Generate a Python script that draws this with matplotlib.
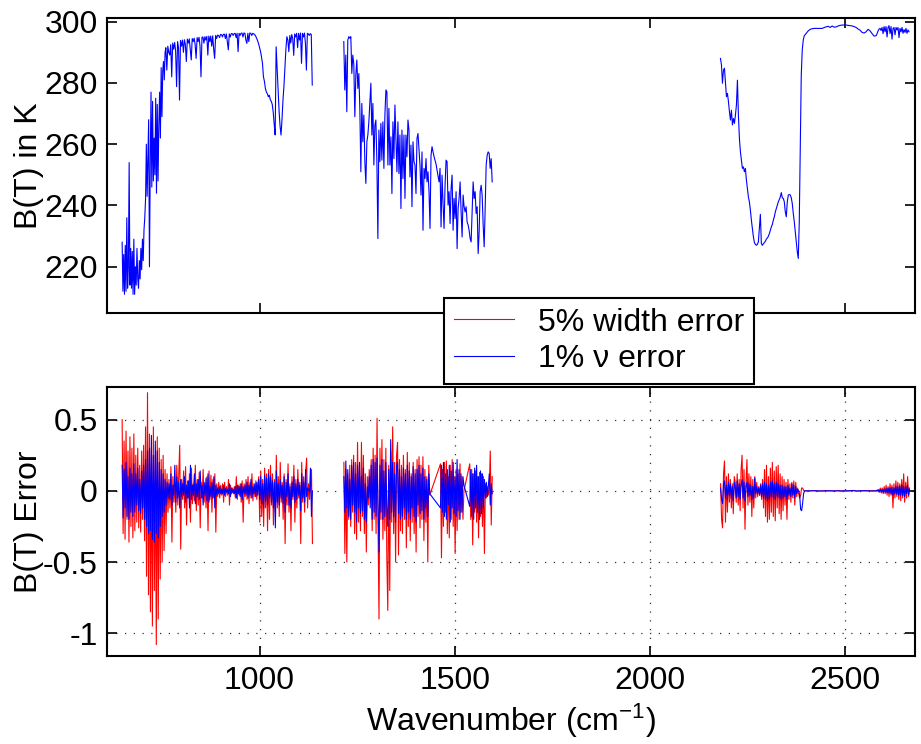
import numpy as np
import matplotlib
matplotlib.use("Agg")
import matplotlib.pyplot as plt

plt.rcParams['font.family'] = ['Liberation Sans', 'DejaVu Sans']
plt.rcParams['mathtext.fontset'] = 'custom'
plt.rcParams['mathtext.rm'] = 'Liberation Sans'
plt.rcParams['mathtext.it'] = 'Liberation Sans:italic'
plt.rcParams['mathtext.bf'] = 'Liberation Sans:bold'

# ---------------- Top panel: brightness temperature B(T) in K ----------------
# segment 1 (648-1136 cm-1), three sub-pieces of regular sampling
bt_seg1a_range = (648.0, 758.0)
bt_seg1a = [228, 212, 224, 211, 227, 212, 236, 213, 220, 254,
            214, 226, 213, 225, 211, 229, 211, 220, 214, 226,
            216, 213, 222, 216, 226, 219, 229, 222, 232, 236,
            242, 260, 243, 256, 268, 220, 253, 277, 246, 274,
            248, 262, 250, 275, 244, 273, 248, 266, 277, 262,
            285, 269, 284, 287, 281, 290]
bt_seg1b_range = (760.0, 985.0)
bt_seg1b = [291.5, 284.2, 292.0, 290.0, 289.1, 292.5, 282.0, 293.0, 291.0, 293.2,
            290.5, 278.8, 293.5, 291.5, 274.4, 293.8, 292.0, 294.0, 290.0, 294.1,
            292.5, 287.0, 294.3, 293.0, 294.4, 291.0, 287.5, 294.5, 293.5, 294.6,
            292.5, 288.0, 294.8, 293.5, 294.9, 292.0, 282.0, 294.9, 295.0, 293.0,
            295.1, 294.0, 295.2, 289.1, 295.3, 293.5, 295.3, 292.0, 295.4, 291.0,
            288.0, 295.5, 294.5, 295.6, 295.5, 294.8, 295.8, 295.8, 295.0, 295.9,
            295.9, 294.5, 296.0, 293.5, 290.8, 296.0, 295.0, 296.1, 296.1, 295.5,
            296.1, 296.2, 294.8, 296.2, 290.2, 296.2, 295.5, 296.2, 296.3, 295.0,
            296.3, 296.2, 294.0, 292.9, 296.2, 293.5, 296.3, 296.2, 295.5, 296.2,
            296.0]
bt_seg1c_range = (987.5, 1135.0)
bt_seg1c = [295.8, 295.3, 294.6, 293.8, 292.8, 291.6, 290.3, 288.5, 286.4, 282.0,
            280.5, 278.2, 277.0, 276.5, 275.5, 276.0, 274.5, 274.0, 273.0, 270.5,
            266.5, 263.0, 291.8, 285.0, 278.0, 271.0, 266.0, 263.0, 268.0, 274.4,
            279.0, 285.3, 291.0, 295.1, 294.0, 290.2, 295.5, 293.0, 295.8, 294.5,
            289.0, 296.0, 295.0, 296.2, 291.5, 296.2, 294.0, 296.3, 286.4, 296.2,
            295.0, 296.3, 293.0, 284.2, 296.2, 296.0, 295.5, 296.1, 295.8, 279.3]

# segment 2 (1216-1596 cm-1)
bt_seg2_range = (1215.8, 1595.9)
bt_seg2 = [293.5, 277.7, 289.1, 270.6, 294.0, 295.1, 294.6, 295.1, 283.1, 289.1,
           286.0, 269.0, 282.6, 287.5, 278.2, 283.1, 271.7, 251.0, 273.3, 260.8,
           269.5, 254.3, 247.2, 260.8, 263.0, 267.3, 273.9, 279.9, 263.0, 273.3,
           253.2, 266.2, 267.9, 254.3, 229.2, 264.6, 254.3, 266.8, 254.8, 267.3,
           252.1, 269.5, 277.7, 277.1, 253.2, 271.7, 253.2, 262.4, 243.9, 267.3,
           255.3, 272.8, 261.9, 251.0, 267.3, 250.4, 263.0, 239.0, 264.6, 248.8,
           263.0, 242.3, 263.0, 255.9, 267.9, 264.6, 249.3, 259.7, 239.6, 260.8,
           254.3, 253.2, 243.9, 261.9, 263.5, 258.6, 253.2, 243.4, 257.5, 231.9,
           252.1, 248.8, 255.3, 247.7, 251.0, 244.5, 232.5, 256.4, 259.2, 257.5,
           256.0, 254.8, 253.5, 251.5, 249.5, 247.7, 252.1, 233.0, 249.9, 240.6,
           232.5, 246.6, 254.8, 254.3, 240.1, 244.5, 234.1, 245.5, 249.9, 231.9,
           242.3, 235.7, 244.5, 225.9, 239.0, 242.3, 247.7, 237.9, 229.7, 243.4,
           239.6, 237.9, 239.6, 234.6, 233.6, 231.9, 229.2, 228.1, 237.9, 247.7,
           242.3, 244.5, 237.4, 239.6, 224.3, 231.4, 244.5, 246.6, 243.4, 233.6,
           226.5, 239.0, 253.2, 256.4, 257.5, 257.0, 252.1, 255.3, 247.7]

# segment 3 (2181-2664 cm-1), three sub-pieces
bt_seg3a_range = (2180.65, 2395.28)
bt_seg3a = [288.0, 285.9, 279.9, 284.2, 284.8, 279.9, 275.5, 276.6, 273.9, 270.6,
            267.9, 271.1, 266.3, 268.4, 266.8, 269.5, 272.8, 280.9, 269.5, 261.9,
            257.5, 254.8, 252.1, 252.6, 251.0, 252.1, 248.3, 245.5, 242.8, 241.2,
            238.5, 235.2, 232.5, 229.8, 227.9, 227.3, 227.0, 227.3, 228.1, 232.5,
            237.1, 227.6, 227.0, 227.5, 227.9, 228.3, 229.0, 229.4, 229.9, 230.8,
            231.9, 233.0, 233.8, 235.2, 236.3, 237.9, 239.0, 240.1, 241.2, 241.9,
            242.8, 244.2, 242.5, 242.3, 241.2, 237.9, 236.3, 241.2, 243.4, 243.6,
            243.4, 242.5, 240.6, 237.4, 234.7, 231.4, 228.1, 224.9, 222.7, 234.7,
            258.6, 282.6, 290.8, 294.0, 295.4]
bt_seg3b_range = (2400.39, 2579.25)
bt_seg3b = [296.2, 297.0, 297.5, 297.7, 297.8, 297.8, 297.8, 297.8, 297.8, 298.1,
            298.3, 298.5, 298.1, 298.6, 298.2, 298.3, 298.6, 298.8, 298.9, 298.9,
            298.9, 298.8, 298.7, 298.6, 298.4, 298.1, 297.6, 297.2, 296.5, 296.3,
            296.7, 297.5, 297.0, 296.1, 295.3, 295.4]
bt_seg3c_range = (2581.80, 2663.57)
bt_seg3c = [296.1, 297.0, 297.6, 297.8, 297.1, 298.1, 296.1, 298.4, 296.7, 298.4,
            295.0, 298.1, 298.7, 296.1, 298.4, 294.3, 297.8, 298.1, 295.7, 298.1,
            297.3, 298.1, 294.8, 297.8, 296.7, 298.1, 296.2, 297.4, 296.5, 297.8,
            296.2, 297.3, 296.7]

# ---------------- Bottom panel: B(T) errors ----------------
# segment 1 (648-1135.5 cm-1)
err_seg1_range = (648.0, 1135.5)
width_err_seg1 = [0.50, -0.30, 0.35, -0.34, 0.42, -0.20, 0.28, -0.36, 0.38, -0.25, 0.30, -0.33, 0.40,
                  -0.28, 0.25, -0.22, 0.30, -0.26, 0.18, -0.29, 0.28, -0.20, 0.32, -0.35,
                  0.45, -0.60, 0.69, -0.73,
                  0.40, -0.85, 0.30, -0.95, 0.45, -0.70, 0.25, -1.08, 0.38, -0.90, 0.30, -0.62,
                  0.22, -0.50, 0.25, -0.42, 0.15, -0.30, 0.12, -0.15,
                  0.08, -0.12, 0.17, -0.36, 0.10, -0.08, 0.06, -0.15, 0.18, -0.10, 0.12, 0.32, -0.41, 0.08, -0.06, 0.14,
                  -0.12, 0.17, -0.24, 0.07, -0.05, 0.12, -0.22, 0.16, -0.09, 0.05, -0.07, 0.18, -0.14, 0.08, -0.10, 0.13,
                  -0.26, 0.06, -0.05, 0.15, -0.08, 0.05, -0.12, 0.10, -0.28, 0.14, -0.06, 0.11, -0.15, 0.08, -0.05, 0.12,
                  -0.29, 0.05, -0.04, 0.06, -0.05, 0.04, -0.03, 0.05, -0.08, 0.06, -0.04, 0.03, -0.03, 0.08, -0.10, 0.04,
                  -0.02, 0.02, -0.02, 0.03, -0.05, 0.10, -0.06, 0.04, -0.03, 0.05, -0.08, 0.07, -0.22, 0.05, -0.04, 0.08,
                  -0.06, 0.10, -0.09, 0.06, -0.05, 0.12, -0.07, 0.05, -0.04, 0.07, -0.06, 0.04,
                  0.10, -0.22, 0.14, -0.18, 0.08, -0.25, 0.16, -0.12, 0.12, -0.28, 0.15, -0.20, 0.18, -0.10, 0.12, -0.24,
                  0.08, -0.15, 0.25, -0.12, 0.10, -0.18, 0.20, -0.08, 0.06, -0.20, 0.12, -0.37, 0.08, -0.10, 0.19, -0.15,
                  0.05, -0.28, 0.10, -0.06, 0.18, -0.22, 0.08, -0.12, 0.15, -0.05, 0.06, -0.37, 0.20, -0.08, 0.10, -0.15,
                  0.12, 0.23, -0.12, 0.05, -0.06, 0.03, 0.15, -0.37]
nu_err_seg1 = [0.18, -0.19, 0.15, -0.12, 0.20, -0.18, 0.10, -0.20, 0.16, -0.15, 0.12, -0.18, 0.19,
               -0.15, 0.12, -0.10, 0.16, -0.14, 0.08, -0.16, 0.14, -0.12, 0.18, -0.20,
               0.22, -0.25, 0.28, -0.30,
               0.30, -0.28, 0.39, -0.34, 0.25, -0.36, 0.35, -0.30, 0.28, -0.33, 0.20, -0.25,
               0.15, -0.18, 0.12, -0.15, 0.08, -0.10, 0.06, -0.05,
               0.05, -0.06, 0.12, -0.10, 0.04, -0.03, 0.18, -0.08, 0.10, -0.05, 0.06, -0.12, 0.08, -0.04, 0.05, -0.03,
               0.10, -0.08, 0.04, -0.05, 0.07, -0.12, 0.18, -0.06, 0.04, -0.03, 0.12, -0.09, 0.05, -0.04, 0.08, -0.06,
               0.14, -0.05, 0.04, -0.10, 0.06, -0.03, 0.09, -0.07, 0.12, -0.08, 0.03, -0.04, 0.06, -0.05, 0.10, -0.12,
               0.04, -0.03, 0.02, -0.02, 0.03, -0.02, 0.01, -0.02, 0.04, -0.03, 0.02, -0.01, 0.01, -0.02, 0.05, -0.04,
               0.02, -0.01, 0.01, -0.02, 0.03, -0.05, 0.04, -0.02, 0.03, -0.04, 0.05, -0.06, 0.03, -0.02, 0.04, -0.03,
               0.06, -0.05, 0.04, -0.03, 0.08, -0.05, 0.03, -0.02, 0.05, -0.04, 0.06, -0.03,
               0.08, -0.06, 0.10, -0.09, 0.05, -0.12, 0.11, -0.07, 0.09, -0.10, 0.12, -0.05, 0.10, -0.08, 0.07, -0.12,
               0.06, -0.26, 0.14, -0.08, 0.05, -0.10, 0.08, -0.05, 0.04, -0.09, 0.10, -0.15, 0.06, -0.04, 0.12, -0.10,
               0.03, -0.12, 0.06, -0.04, 0.10, -0.08, 0.05, -0.06, 0.08, -0.03, 0.04, -0.14, 0.12, -0.05, 0.06, -0.08,
               0.15, -0.04, 0.02, 0.01, -0.01, 0.16, -0.18, 0.0]

# segment 2: three runs of channels (gaps bridged by straight lines)
err_seg2a_range = (1216.0, 1436.0)
width_err_seg2a = [0.20, -0.44, 0.15, -0.50, 0.12, -0.20, 0.18, -0.25, 0.22, -0.15, 0.25, -0.30, 0.20, -0.34, 0.34, -0.22,
                   0.15, -0.28, 0.34, -0.18, 0.25, -0.30, 0.12, -0.43, 0.10, -0.10, 0.15, -0.05, 0.22, -0.28, 0.30, -0.20,
                   0.25, -0.30, 0.51, -0.25, -0.90, 0.30, -0.20, 0.36, -0.34, 0.22, -0.28, 0.30, -0.47, -0.84, 0.18, -0.70,
                   0.28, -0.22, 0.45, -0.30, 0.20, -0.50, 0.25, 0.34, -0.45, 0.22, -0.28, 0.18, -0.30, 0.25, -0.20, 0.15,
                   -0.40, 0.27, -0.25, 0.20, -0.35, 0.12, -0.22, 0.20, -0.30, 0.15, -0.43, 0.22, -0.18, 0.24, -0.26, 0.18,
                   -0.20, 0.24, -0.35, 0.15, -0.22, 0.10, -0.50, 0.18, -0.03]
nu_err_seg2a = [0.10, -0.15, 0.21, -0.12, 0.15, -0.18, 0.08, -0.20, 0.18, -0.10, 0.20, -0.15, 0.12, -0.22, 0.18, -0.12,
                0.20, -0.16, 0.10, -0.14, 0.16, -0.20, 0.05, -0.22, 0.03, -0.05, 0.10, -0.12, 0.18, -0.20, 0.22, -0.15,
                0.20, -0.18, 0.23, -0.10, -0.43, 0.18, -0.15, 0.22, -0.20, 0.14, -0.18, 0.20, -0.12, -0.25, 0.15, -0.20,
                0.36, -0.15, 0.20, -0.18, 0.12, -0.22, 0.18, 0.20, -0.16, 0.15, -0.20, 0.10, -0.18, 0.16, -0.12, 0.12,
                -0.20, 0.18, -0.15, 0.14, -0.20, 0.10, -0.12, 0.17, -0.18, 0.12, -0.22, 0.15, -0.10, 0.18, -0.16, 0.12,
                -0.14, 0.16, -0.20, 0.10, -0.12, 0.08, -0.18, 0.12, -0.02]
err_seg2b_range = (1463.5, 1523.5)
width_err_seg2b = [0.19, -0.47, 0.15, -0.25, 0.20, -0.15, 0.21, -0.30, 0.10, -0.33, 0.18, -0.20, 0.22, -0.25, 0.10,
                   -0.44, 0.15, -0.28, 0.12, -0.20, 0.19, -0.15, 0.10, -0.20, 0.00]
nu_err_seg2b = [-0.12, 0.18, -0.15, 0.20, -0.18, 0.12, -0.20, 0.15, -0.10, 0.18, -0.22, 0.14, -0.12, 0.20, -0.16,
                0.10, -0.18, 0.22, -0.14, 0.15, -0.20, 0.12, -0.15, 0.10, 0.04]
err_seg2c_range = (1538.5, 1596.0)
width_err_seg2c = [0.19, -0.20, 0.15, -0.38, 0.12, -0.15, 0.14, -0.22, 0.10, -0.33, 0.13, -0.18, 0.12, -0.25, 0.10,
                   -0.44, 0.05, -0.05, 0.03, -0.03, 0.02, 0.28, -0.24, 0.10]
nu_err_seg2c = [-0.11, 0.15, -0.18, 0.12, -0.20, 0.16, -0.12, 0.18, -0.15, 0.10, -0.20, 0.14, -0.16, 0.12, -0.12,
                0.08, -0.05, 0.06, -0.04, 0.03, 0.12, -0.10, 0.05, -0.02]

# segment 3
err_seg3a_range = (2181.0, 2401.0)
width_err_seg3a = [0.05, -0.20, -0.26, 0.12, 0.21, -0.22, 0.10, -0.15, 0.12, -0.08, 0.08, -0.12, 0.05, -0.16, 0.10, 0.06,
                   -0.08, 0.12, -0.10, 0.08, -0.14, 0.15, 0.25, -0.12, 0.15, -0.27, 0.05, 0.22, -0.10, 0.12, -0.08, 0.10,
                   -0.18, 0.08, -0.12, 0.10, -0.05, 0.06, -0.04, 0.03, -0.03, 0.05, -0.06, 0.08, -0.12, 0.15, -0.18, 0.18,
                   -0.22, 0.10, -0.20, 0.16, -0.15, 0.20, -0.18, 0.14, -0.21, 0.17, -0.12, 0.18, -0.16, 0.12, -0.20, 0.10,
                   -0.14, 0.08, -0.10, 0.06, -0.20, 0.08, -0.06, 0.05, -0.08, 0.06, -0.05, 0.07, -0.10, 0.06, -0.04, 0.02,
                   -0.02, -0.05, -0.03, 0.02, 0.02, 0.005, -0.003, 0.002, 0.0]
nu_err_seg3a = [0.02, -0.06, -0.09, 0.05, 0.07, -0.05, 0.04, -0.06, 0.06, -0.03, 0.05, -0.05, 0.03, -0.07, 0.06, 0.02,
                -0.05, 0.07, -0.04, 0.05, -0.06, 0.04, 0.08, -0.05, 0.06, -0.07, 0.03, 0.06, -0.04, 0.05, -0.03, 0.04,
                -0.06, 0.03, -0.05, 0.09, -0.02, 0.03, -0.02, 0.02, -0.03, 0.04, -0.04, 0.05, -0.05, 0.06, -0.06, 0.05,
                -0.07, 0.04, -0.06, 0.06, -0.04, 0.07, -0.05, 0.05, -0.06, 0.06, -0.04, 0.05, -0.05, 0.04, -0.06, 0.04,
                -0.05, 0.03, -0.04, 0.03, -0.06, 0.04, -0.03, 0.02, -0.04, 0.05, -0.03, 0.04, -0.05, 0.03, -0.02, 0.01,
                0.00, -0.03, -0.13, -0.14, -0.09, -0.02, 0.00, 0.00, 0.00]
err_seg3b_range = (2410.0, 2580.0)
width_err_seg3b = [0.0, 0.002, -0.002, 0.0, 0.001, 0.0, -0.001, 0.002, 0.0, -0.002, 0.0, 0.003, -0.002, 0.0, 0.002,
                   -0.001, 0.003, -0.003]
nu_err_seg3b = [0.0, 0.001, 0.0, -0.001, 0.0, 0.001, 0.0, 0.0, -0.001, 0.001, 0.0, 0.002, -0.001, 0.001, 0.0,
                0.001, -0.002, 0.002]
err_seg3c_range = (2585.0, 2665.0)
width_err_seg3c = [0.01, -0.01, 0.02, -0.015, 0.02, -0.02, 0.03, -0.02, 0.04, -0.03, 0.03, -0.04, 0.05, -0.03, 0.04,
                   -0.12, 0.05, -0.05, 0.07, -0.04, 0.06, -0.06, 0.05, -0.07, 0.08, -0.05, 0.12, -0.08, 0.06, -0.05,
                   0.10, -0.04, 0.02]
nu_err_seg3c = [0.005, -0.005, 0.01, -0.008, 0.01, -0.01, 0.012, -0.01, 0.015, -0.012, 0.02, -0.015, 0.02, -0.02,
                0.025, -0.03, 0.02, -0.02, 0.03, -0.025, 0.03, -0.03, 0.035, -0.03, 0.04, -0.035, 0.03, -0.04, 0.03,
                -0.02, 0.04, -0.03, 0.01]

legend_labels = ['5% width error', '1% \u03bd error']
top_yticks = [220, 240, 260, 280, 300]
bot_yticks = [-1, -0.5, 0, 0.5]
bot_yticklabels = ['-1', '-0.5', '0', '0.5']
xticks = [1000, 1500, 2000, 2500]


def grid_for(rng, values):
    return np.linspace(rng[0], rng[1], len(values))


def pieces(*pairs):
    xs = np.concatenate([grid_for(r, v) for r, v in pairs])
    ys = np.concatenate([np.asarray(v, float) for _, v in pairs])
    return xs, ys


FS = 23
fig = plt.figure(figsize=(9.21, 7.44), dpi=100)
ax1 = fig.add_axes([0.1165, 0.5793, 0.8770, 0.3961])
ax2 = fig.add_axes([0.1165, 0.1183, 0.8770, 0.3616])

BLUE = (0, 0, 1)
RED = (1, 0, 0)
LW = 0.8

top_segments = [
    pieces((bt_seg1a_range, bt_seg1a), (bt_seg1b_range, bt_seg1b), (bt_seg1c_range, bt_seg1c)),
    pieces((bt_seg2_range, bt_seg2),),
    pieces((bt_seg3a_range, bt_seg3a), (bt_seg3b_range, bt_seg3b), (bt_seg3c_range, bt_seg3c)),
]
for xs, ys in top_segments:
    ax1.plot(xs, ys, color=BLUE, lw=LW)

red_segments = [
    pieces((err_seg1_range, width_err_seg1),),
    pieces((err_seg2a_range, width_err_seg2a), (err_seg2b_range, width_err_seg2b), (err_seg2c_range, width_err_seg2c)),
    pieces((err_seg3a_range, width_err_seg3a), (err_seg3b_range, width_err_seg3b), (err_seg3c_range, width_err_seg3c)),
]
blue_segments = [
    pieces((err_seg1_range, nu_err_seg1),),
    pieces((err_seg2a_range, nu_err_seg2a), (err_seg2b_range, nu_err_seg2b), (err_seg2c_range, nu_err_seg2c)),
    pieces((err_seg3a_range, nu_err_seg3a), (err_seg3b_range, nu_err_seg3b), (err_seg3c_range, nu_err_seg3c)),
]
red_handle = None
for xs, ys in red_segments:
    red_handle, = ax2.plot(xs, ys, color=RED, lw=LW)
blue_handle = None
for xs, ys in blue_segments:
    blue_handle, = ax2.plot(xs, ys, color=BLUE, lw=LW)

for ax in (ax1, ax2):
    ax.set_xlim(610, 2679)
    ax.set_xticks(xticks)
    for s in ax.spines.values():
        s.set_linewidth(1.5)
    ax.tick_params(direction='in', length=7, width=1.2, top=True, right=True,
                   labelsize=FS, pad=7)

ax1.set_ylim(204.9, 301.1)
ax1.set_yticks(top_yticks)
ax1.tick_params(labelbottom=False)

ax2.set_ylim(-1.16, 0.73)
ax2.set_yticks(bot_yticks)
ax2.set_yticklabels(bot_yticklabels)
ax2.grid(True, linestyle=(0, (1, 6)), color='#333333', linewidth=0.9)
ax2.set_xlabel('Wavenumber (cm$^{-1}$)', fontsize=FS, labelpad=4)

fig.text(0.031, 0.5793 + 0.3961 / 2, 'B(T) in K', rotation=90, ha='center', va='center', fontsize=FS)
fig.text(0.031, 0.1183 + 0.3616 / 2, 'B(T) Error', rotation=90, ha='center', va='center', fontsize=FS)

leg = fig.legend([red_handle, blue_handle], legend_labels, loc='upper left',
                 bbox_to_anchor=(444 / 921, 1 - 298 / 744), borderaxespad=0,
                 fontsize=FS, fancybox=False, framealpha=1, edgecolor='black',
                 handlelength=1.9, handletextpad=0.75, labelspacing=0.2, borderpad=0.3)
leg.get_frame().set_linewidth(1.5)

fig.savefig('out.png', dpi=100)
